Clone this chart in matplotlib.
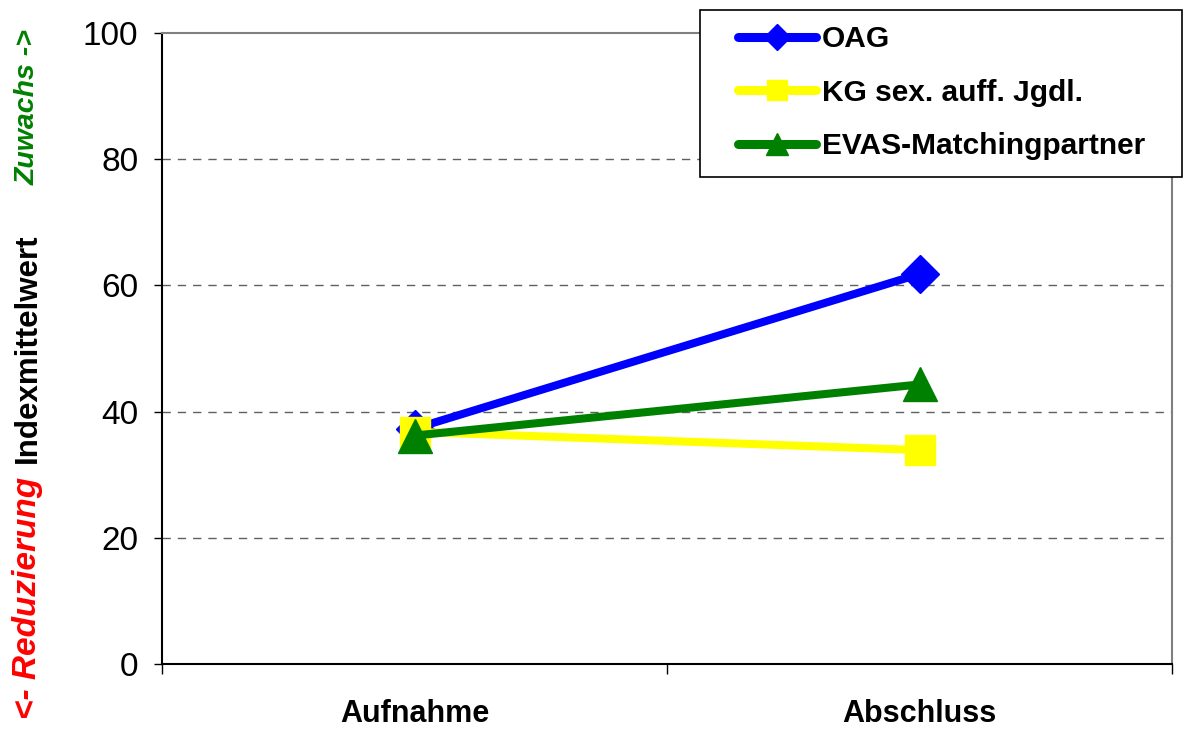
import matplotlib
matplotlib.use("Agg")
import matplotlib.pyplot as plt
from matplotlib.ticker import FixedLocator, NullFormatter
from matplotlib.patches import Rectangle

plt.rcParams['font.family'] = ['Liberation Sans', 'DejaVu Sans']

categories = ["Aufnahme", "Abschluss"]
series_names = ["OAG", "KG sex. auff. Jgdl.", "EVAS-Matchingpartner"]
oag = [37.3, 61.8]
kg = [36.8, 33.9]
evas = [36.2, 44.3]
y_ticks = [0, 20, 40, 60, 80, 100]

W, H = 1183, 729
fig = plt.figure(figsize=(W / 100, H / 100), dpi=100)
ax = fig.add_axes([162 / W, 65 / H, 1010 / W, 631 / H])

x = list(range(len(categories)))
ax.plot(x, oag, color='#0000FF', lw=5.8, marker='D', ms=19, label=series_names[0], zorder=3)
ax.plot(x, kg, color='#FFFF00', lw=5.8, marker='s', ms=22, label=series_names[1], zorder=4)
ax.plot(x, evas, color='#008000', lw=5.8, marker='^', ms=24, label=series_names[2], zorder=5)

ax.set_xlim(-0.5, len(categories) - 0.5)
ax.set_ylim(0, 100)
ax.set_yticks(y_ticks)
ax.tick_params(axis='y', direction='out', length=6, width=1, labelsize=24, pad=11, colors='black')
for t in y_ticks[1:-1]:
    ax.axhline(t, color='#606060', lw=1, ls=(0, (6, 5)), zorder=1)

ax.xaxis.set_major_locator(FixedLocator([i - 0.5 for i in range(len(categories) + 1)]))
ax.xaxis.set_major_formatter(NullFormatter())
ax.xaxis.set_minor_locator(FixedLocator(x))
ax.set_xticks(x, categories, minor=True)
ax.tick_params(axis='x', which='major', direction='out', length=7, width=1)
ax.tick_params(axis='x', which='minor', length=0, pad=25, labelsize=22)
for lab in ax.get_xticklabels(minor=True):
    lab.set_fontweight('bold')

ax.spines['left'].set_color('black')
ax.spines['bottom'].set_color('black')
ax.spines['top'].set_color('#808080')
ax.spines['right'].set_color('#808080')
for s in ax.spines.values():
    s.set_linewidth(1.5)

fig.text(28 / W, 1 - 107.5 / H, "Zuwachs ->", rotation=90, color='#008000', fontsize=20.5,
         fontweight='bold', fontstyle='italic', ha='center', va='center')
fig.text(28 / W, 1 - 348 / H, "Indexmittelwert", rotation=90, color='black', fontsize=22.5,
         fontweight='bold', ha='center', va='center')
fig.text(28 / W, 1 - 598 / H, "<- Reduzierung", rotation=90, color='#FF0000', fontsize=24,
         fontweight='bold', fontstyle='italic', ha='center', va='center')

# legend frame
fig.patches.append(Rectangle((700 / W, 1 - 177 / H), 482 / W, 167 / H, transform=fig.transFigure,
                             facecolor='white', edgecolor='black', lw=1.2, zorder=10))
leg = fig.legend(loc='upper left', bbox_to_anchor=(738 / W, 1 - 25 / H), bbox_transform=fig.transFigure,
                 prop={'weight': 'bold', 'size': 21.5}, frameon=False,
                 markerscale=0.68, handlelength=2.6, handletextpad=0.2, labelspacing=0.86,
                 borderpad=0, borderaxespad=0)
leg.set_zorder(11)
for h in leg.legend_handles:
    h.set_linewidth(6.5)
    h.set_solid_capstyle('round')

fig.savefig('out.png', dpi=100)
